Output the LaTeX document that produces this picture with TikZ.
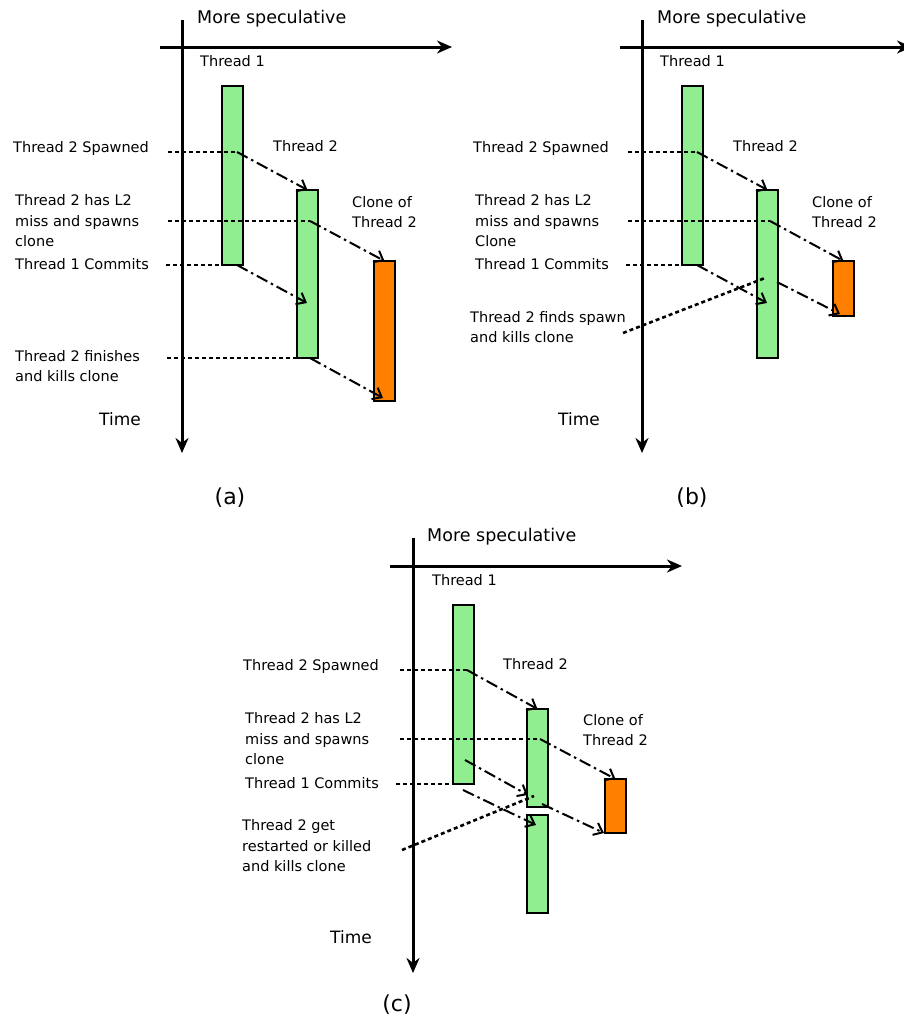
\documentclass[tikz,border=0pt]{standalone}
\usepackage{fontspec}
\setmainfont{DejaVu Sans}
\usepackage{xcolor}
\usepackage{tikz}
\usetikzlibrary{arrows.meta, positioning}
\definecolor{threadgreen}{HTML}{90EE90}
\definecolor{cloneorange}{HTML}{FF7F00}

\begin{document}
\begin{tikzpicture}[
  x=1pt, y=-1pt,
  axis/.style={line width=3pt, -{Stealth[length=15pt, width=13pt]}},
  threadbar/.style={rectangle, draw, line width=2.2pt, fill=threadgreen, minimum width=21pt, inner sep=0pt, outer sep=0pt, anchor=north west},
  clonebar/.style={threadbar, fill=cloneorange},
  eventline/.style={line width=2.6pt, dash pattern=on 4pt off 3pt},
  spawnarrow/.style={line width=2pt, dash pattern=on 12pt off 4pt on 2.5pt off 4pt, -{Straight Barb[length=8pt, width=13pt]}},
  eventtext/.style={font=\fontsize{14.5}{20.5}\selectfont, align=left, anchor=west, inner sep=0pt},
  axistext/.style={font=\fontsize{17.5}{20}\selectfont, anchor=west, inner sep=0pt},
  timetext/.style={font=\fontsize{17}{20}\selectfont, anchor=west, inner sep=0pt},
  caption/.style={font=\fontsize{22}{24}\selectfont, inner sep=0pt}
]
  \clip (0,0) rectangle (904,1034);

  % panel (a): clone survives until thread 2 finishes
  \begin{scope}
    \coordinate (a-top) at (182,20);
    \coordinate (a-bot) at (182,453);
    \coordinate (a-left) at (160,47);
    \coordinate (a-right) at (452,47);
    \draw[axis] (a-top) -- (a-bot);
    \draw[axis] (a-left) -- (a-right);
    \node[axistext] (a-spec) at (197,19) {More speculative};
    \node[timetext] (a-time) at (99,419) {Time};

    \node[threadbar, minimum height=179pt] (a-t1) at (222,86) {};
    \node[threadbar, minimum height=168pt] (a-t2) at (297,190) {};
    \node[clonebar, minimum height=140pt] (a-cl) at (374,261) {};
    \node[eventtext] (a-t1l) at (200,61) {Thread 1};
    \node[eventtext] (a-t2l) at (273,146) {Thread 2};
    \node[eventtext] (a-cll) at (352,212) {Clone of\\Thread 2};

    \node[eventtext] (a-spawned) at (13,148) {Thread 2 Spawned};
    \node[eventtext] (a-miss) at (15,221) {Thread 2 has L2\\miss and spawns\\clone};
    \node[eventtext] (a-commit) at (15,264) {Thread 1 Commits};
    \node[eventtext] (a-finish) at (15,366) {Thread 2 finishes\\and kills clone};

    \coordinate (a-e1) at (168,152);
    \coordinate (a-s1) at (237,152);
    \coordinate (a-e2) at (168,221);
    \coordinate (a-s2) at (310,221);
    \coordinate (a-e3) at (166,265);
    \coordinate (a-s3) at (237,265);
    \coordinate (a-d3) at (307,303);
    \coordinate (a-e4) at (167,358);
    \coordinate (a-s4) at (310,358);
    \coordinate (a-d4) at (383,398);

    \draw[eventline] (a-e1) -- (a-s1);
    \draw[eventline] (a-e2) -- (a-s2);
    \draw[eventline] (a-e3) -- (a-t1.south west);
    \draw[eventline] (a-e4) -- (a-t2.south west);
    \draw[spawnarrow] (a-s1) -- (a-t2.north);
    \draw[spawnarrow] (a-s2) -- (a-cl.north);
    \draw[spawnarrow] (a-s3) -- (a-d3);
    \draw[spawnarrow] (a-s4) -- (a-d4);

    \node[caption] (a-cap) at (230,498) {(a)};
  \end{scope}

  % panel (b): thread 2 finds the spawn
  \begin{scope}[shift={(460,0)}]
    \coordinate (b-top) at (182,20);
    \coordinate (b-bot) at (182,453);
    \coordinate (b-left) at (160,47);
    \coordinate (b-right) at (452,47);
    \draw[axis] (b-top) -- (b-bot);
    \draw[axis] (b-left) -- (b-right);
    \node[axistext] (b-spec) at (197,19) {More speculative};
    \node[timetext] (b-time) at (98,419) {Time};

    \node[threadbar, minimum height=179pt] (b-t1) at (222,86) {};
    \node[threadbar, minimum height=168pt] (b-t2) at (297,190) {};
    \node[clonebar, minimum height=55pt] (b-cl) at (373,261) {};
    \node[eventtext] (b-t1l) at (200,61) {Thread 1};
    \node[eventtext] (b-t2l) at (273,146) {Thread 2};
    \node[eventtext] (b-cll) at (352,212) {Clone of\\Thread 2};

    \node[eventtext] (b-spawned) at (13,148) {Thread 2 Spawned};
    \node[eventtext] (b-miss) at (15,221) {Thread 2 has L2\\miss and spawns\\Clone};
    \node[eventtext] (b-commit) at (15,264) {Thread 1 Commits};
    \node[eventtext] (b-find) at (10,327) {Thread 2 finds spawn\\and kills clone};

    \coordinate (b-e1) at (168,152);
    \coordinate (b-s1) at (237,152);
    \coordinate (b-e2) at (168,221);
    \coordinate (b-s2) at (310,221);
    \coordinate (b-e3) at (166,265);
    \coordinate (b-s3) at (237,265);
    \coordinate (b-d3) at (307,303);
    \coordinate (b-e4) at (163,333);
    \coordinate (b-k4) at (305,278);
    \coordinate (b-s4) at (317,282);
    \coordinate (b-d4) at (380,314);

    \draw[eventline] (b-e1) -- (b-s1);
    \draw[eventline] (b-e2) -- (b-s2);
    \draw[eventline] (b-e3) -- (b-t1.south west);
    \draw[eventline] (b-e4) -- (b-k4);
    \draw[spawnarrow] (b-s1) -- (b-t2.north);
    \draw[spawnarrow] (b-s2) -- (b-cl.north);
    \draw[spawnarrow] (b-s3) -- (b-d3);
    \draw[spawnarrow] (b-s4) -- (b-d4);

    \node[caption] (b-cap) at (232,498) {(b)};
  \end{scope}

  % panel (c): thread 2 restarted or killed
  \begin{scope}[shift={(231,519)}]
    \coordinate (c-top) at (182,19);
    \coordinate (c-bot) at (182,454);
    \coordinate (c-left) at (159,47);
    \coordinate (c-right) at (451,47);
    \draw[axis] (c-top) -- (c-bot);
    \draw[axis] (c-left) -- (c-right);
    \node[axistext] (c-spec) at (196,18) {More speculative};
    \node[timetext] (c-time) at (99,418) {Time};

    \node[threadbar, minimum height=179pt] (c-t1) at (222,86) {};
    \node[threadbar, minimum height=98pt] (c-t2) at (296,190) {};
    \node[threadbar, minimum height=98pt] (c-t2b) at (296,296) {};
    \node[clonebar, minimum height=54pt] (c-cl) at (374,260) {};
    \node[eventtext] (c-t1l) at (201,61) {Thread 1};
    \node[eventtext] (c-t2l) at (272,145) {Thread 2};
    \node[eventtext] (c-cll) at (352,211) {Clone of\\Thread 2};

    \node[eventtext] (c-spawned) at (12,147) {Thread 2 Spawned};
    \node[eventtext] (c-miss) at (14,220) {Thread 2 has L2\\miss and spawns\\clone};
    \node[eventtext] (c-commit) at (14,264) {Thread 1 Commits};
    \node[eventtext] (c-restart) at (11,327) {Thread 2 get\\restarted or killed\\and kills clone};

    \coordinate (c-e1) at (169,151);
    \coordinate (c-s1) at (236,151);
    \coordinate (c-e2) at (169,220);
    \coordinate (c-s2) at (309,220);
    \coordinate (c-e3) at (165,265);
    \coordinate (c-s3) at (232,271);
    \coordinate (c-d3) at (305,306);
    \coordinate (c-s5) at (234,241);
    \coordinate (c-d5) at (297,276);
    \coordinate (c-e4) at (171,331);
    \coordinate (c-k4) at (303,277);
    \coordinate (c-s4) at (311,285);
    \coordinate (c-d4) at (373,314);

    \draw[eventline] (c-e1) -- (c-s1);
    \draw[eventline] (c-e2) -- (c-s2);
    \draw[eventline] (c-e3) -- (c-t1.south west);
    \draw[eventline] (c-e4) -- (c-k4);
    \draw[spawnarrow] (c-s1) -- (c-t2.north);
    \draw[spawnarrow] (c-s2) -- (c-cl.north);
    \draw[spawnarrow] (c-s5) -- (c-d5);
    \draw[spawnarrow] (c-s3) -- (c-d3);
    \draw[spawnarrow] (c-s4) -- (c-d4);

    \node[caption] (c-cap) at (166,486) {(c)};
  \end{scope}
\end{tikzpicture}
\end{document}
